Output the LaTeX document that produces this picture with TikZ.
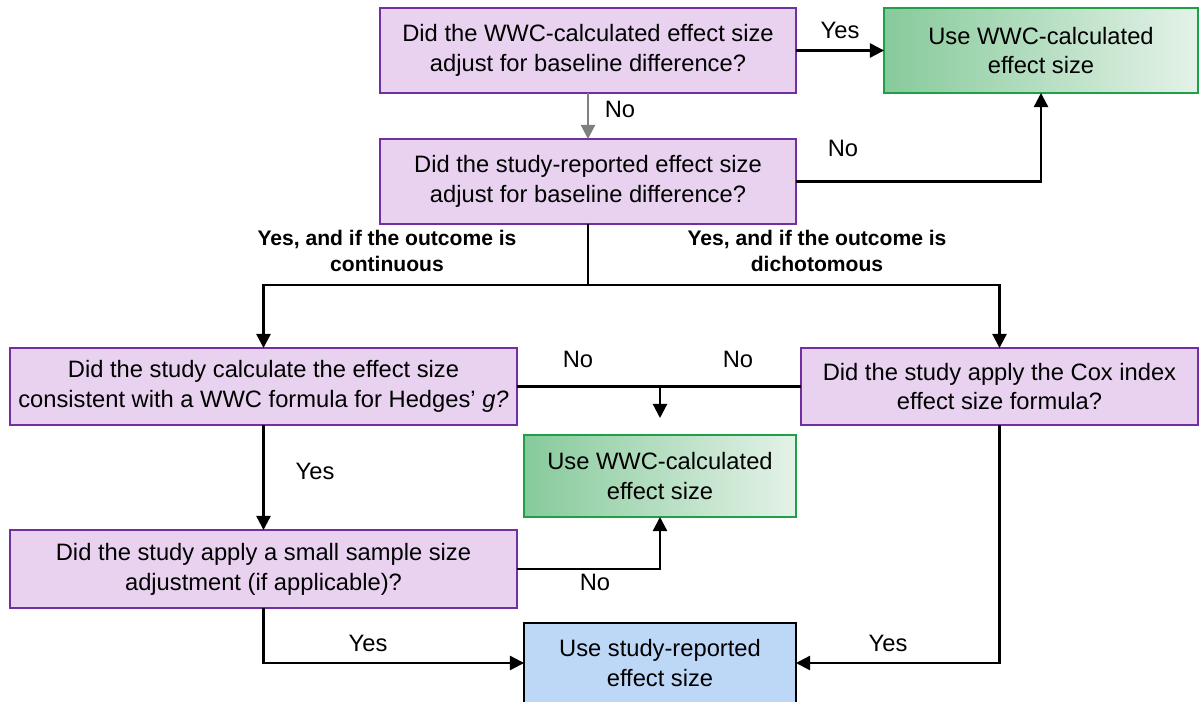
\documentclass[tikz,border=0pt]{standalone}
\usepackage{fontspec}
\setmainfont{Liberation Sans}
\usetikzlibrary{arrows.meta}
\definecolor{qfill}{RGB}{232,210,240}
\definecolor{qdraw}{RGB}{112,48,160}
\definecolor{gdraw}{RGB}{30,160,70}
\definecolor{gleft}{RGB}{135,202,155}
\definecolor{gright}{RGB}{228,242,232}
\definecolor{bfill}{RGB}{189,215,247}
\definecolor{arrgray}{RGB}{128,128,128}
\tikzset{
  qbox/.style={draw=qdraw, fill=qfill, line width=1.3pt, inner sep=0pt, outer sep=0pt, align=center, font=\fontsize{13.5}{17}\selectfont},
  gbox/.style={draw=gdraw, left color=gleft, right color=gright, line width=1.3pt, inner sep=0pt, outer sep=0pt, align=center, font=\fontsize{13.5}{17}\selectfont},
  bbox/.style={draw=black, fill=bfill, line width=1.3pt, inner sep=0pt, outer sep=0pt, align=center, font=\fontsize{13.5}{17}\selectfont},
  conn/.style={line width=1.3pt, black},
  arr/.style={conn, -{Triangle[length=8pt,width=8pt]}},
  arrg/.style={line width=1.3pt, arrgray, -{Triangle[length=8pt,width=8pt]}},
  lbl/.style={font=\fontsize{13.5}{17}\selectfont, inner sep=0pt},
  blbl/.style={font=\bfseries\fontsize{12}{15}\selectfont, align=center, inner sep=0pt},
}
\begin{document}
\begin{tikzpicture}[x=0.02cm,y=-0.02cm]
\clip (0,0) rectangle (1204,702);
\fill[white] (0,0) rectangle (1204,702);

\node[qbox, minimum width=8.32cm, minimum height=1.7cm] (q1) at (588,50.5) {Did the WWC-calculated effect size\\adjust for baseline difference?};
\node[gbox, minimum width=6.28cm, minimum height=1.7cm] (g1) at (1041,50.5) {Use WWC-calculated\\effect size};
\node[qbox, minimum width=8.32cm, minimum height=1.7cm] (q2) at (588,181.5) {Did the study-reported effect size\\adjust for baseline difference?};
\node[qbox, minimum width=10.14cm, minimum height=1.54cm] (q3) at (263.5,386.5) {Did the study calculate the effect size\\consistent with a WWC formula for Hedges’ \textit{g?}};
\node[qbox, minimum width=7.94cm, minimum height=1.54cm] (q4) at (999.5,386.5) {Did the study apply the Cox index\\effect size formula?};
\node[gbox, minimum width=5.44cm, minimum height=1.64cm] (g2) at (660,476) {Use WWC-calculated\\effect size};
\node[qbox, minimum width=10.14cm, minimum height=1.56cm] (q5) at (263.5,569) {Did the study apply a small sample size\\adjustment (if applicable)?};
\node[bbox, minimum width=5.44cm, minimum height=1.6cm] (b) at (660,663) {Use study-reported\\effect size};

\coordinate (j1) at (588,285);
\coordinate (j2) at (660,386.5);
\coordinate (j2e) at (660,418);

\draw[arr] (q1) -- (g1);
\draw[arrg] (q1) -- (q2);
\draw[arr] (q2.east) -| (g1.south);
\draw[conn] (q2.south) -- (j1);
\draw[arr] (j1) -| (q3.north);
\draw[arr] (j1) -| (q4.north);
\draw[conn] (q3.east) -- (q4.west);
\draw[arr] (j2) -- (j2e);
\draw[arr] (q3) -- (q5);
\draw[arr] (q5.east) -| (g2.south);
\draw[arr] (q5.south) |- (b.west);
\draw[arr] (q4.south) |- (b.east);

\node[lbl] (l1) at (840,30) {Yes};
\node[lbl] (l2) at (620,109) {No};
\node[lbl] (l3) at (843,148) {No};
\node[blbl] (l4) at (387,251) {Yes, and if the outcome is\\continuous};
\node[blbl] (l5) at (817,251) {Yes, and if the outcome is\\dichotomous};
\node[lbl] (l6) at (578,359) {No};
\node[lbl] (l7) at (738,359) {No};
\node[lbl] (l8) at (315,471) {Yes};
\node[lbl] (l9) at (595,582) {No};
\node[lbl] (l10) at (368,643) {Yes};
\node[lbl] (l11) at (888,643) {Yes};
\end{tikzpicture}
\end{document}
